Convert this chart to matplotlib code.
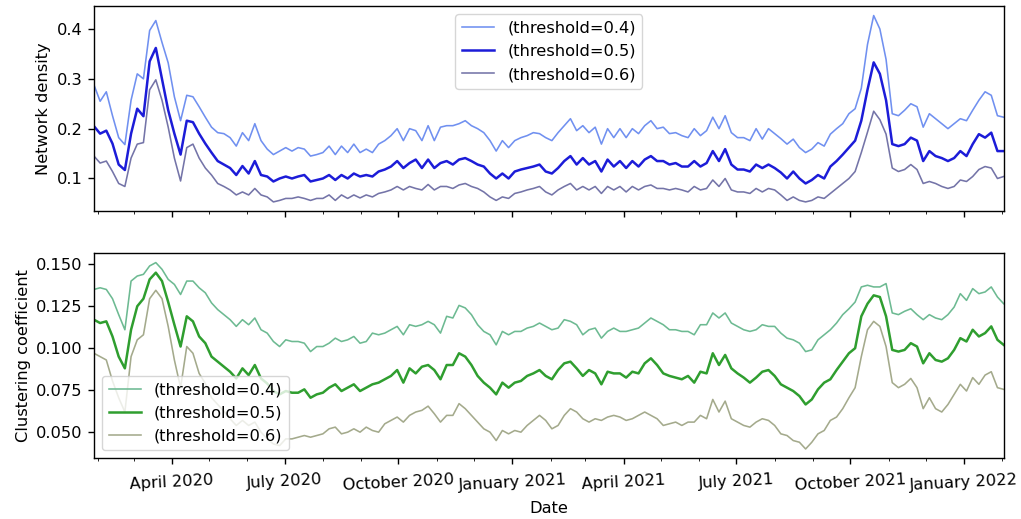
import matplotlib
matplotlib.use('Agg')
import matplotlib.pyplot as plt
import matplotlib.dates as mdates
import pandas as pd

# ---- data (one value every 5 days) ----
start_date = '2020-01-29'
n_points = 148
labels = ['(threshold=0.4)', '(threshold=0.5)', '(threshold=0.6)']

density_04 = [
    0.288, 0.255, 0.274, 0.226, 0.182, 0.168, 0.257, 0.31, 0.30, 0.397, 0.417, 0.373, 0.332, 0.264, 0.216, 0.267,
    0.264, 0.244, 0.223, 0.203, 0.192, 0.19, 0.182, 0.165, 0.192, 0.176, 0.21, 0.176, 0.159, 0.148, 0.155, 0.162,
    0.155, 0.162, 0.159, 0.145, 0.148,
    0.152, 0.165, 0.148, 0.165, 0.152, 0.169, 0.152, 0.159, 0.152, 0.169, 0.176, 0.186, 0.2, 0.176, 0.2, 0.196,
    0.176, 0.206, 0.176, 0.203, 0.206, 0.206, 0.21, 0.216, 0.206, 0.2, 0.192, 0.176, 0.155, 0.176, 0.162, 0.176,
    0.182, 0.186, 0.192, 0.19, 0.182, 0.176,
    0.192, 0.206, 0.22, 0.196, 0.206, 0.192, 0.203, 0.169, 0.2, 0.182, 0.2, 0.182, 0.2, 0.19, 0.206, 0.216,
    0.2, 0.203, 0.19, 0.192, 0.186, 0.182, 0.2, 0.186, 0.196, 0.223, 0.2, 0.226, 0.192, 0.182, 0.182, 0.176,
    0.2, 0.179, 0.2, 0.19, 0.18,
    0.169, 0.179, 0.162, 0.152, 0.159, 0.172, 0.165, 0.189, 0.2, 0.21, 0.23, 0.24, 0.281, 0.369, 0.427, 0.40,
    0.339, 0.23, 0.226, 0.237, 0.25, 0.244, 0.203, 0.23, 0.22, 0.21, 0.2, 0.21, 0.22, 0.216, 0.237, 0.257,
    0.274, 0.267, 0.226, 0.223,
]
density_05 = [
    0.205, 0.19, 0.196, 0.17, 0.128, 0.117, 0.19, 0.24, 0.225, 0.335, 0.362, 0.30, 0.237, 0.19, 0.148, 0.216,
    0.213, 0.19, 0.17, 0.152, 0.135, 0.128, 0.121, 0.107, 0.125, 0.11, 0.135, 0.107, 0.104, 0.094, 0.10, 0.104,
    0.10, 0.104, 0.107, 0.094, 0.097,
    0.10, 0.107, 0.097, 0.107, 0.10, 0.11, 0.104, 0.107, 0.104, 0.114, 0.118, 0.124, 0.135, 0.121, 0.131, 0.138,
    0.121, 0.138, 0.121, 0.131, 0.135, 0.128, 0.138, 0.141, 0.135, 0.128, 0.124, 0.11, 0.10, 0.11, 0.10, 0.114,
    0.118, 0.121, 0.124, 0.128, 0.114, 0.11,
    0.121, 0.135, 0.145, 0.128, 0.141, 0.128, 0.135, 0.114, 0.138, 0.124, 0.135, 0.121, 0.135, 0.124, 0.138, 0.145,
    0.135, 0.135, 0.128, 0.131, 0.124, 0.124, 0.135, 0.124, 0.131, 0.155, 0.135, 0.159, 0.128, 0.118, 0.118, 0.114,
    0.128, 0.121, 0.128, 0.121, 0.112,
    0.10, 0.114, 0.10, 0.09, 0.097, 0.107, 0.10, 0.124, 0.135, 0.148, 0.162, 0.176, 0.216, 0.278, 0.333, 0.31,
    0.257, 0.169, 0.165, 0.169, 0.182, 0.176, 0.135, 0.155, 0.145, 0.141, 0.135, 0.141, 0.155, 0.145, 0.169, 0.189,
    0.182, 0.192, 0.155, 0.155,
]
density_06 = [
    0.145, 0.131, 0.135, 0.114, 0.09, 0.084, 0.141, 0.169, 0.172, 0.278, 0.298, 0.257, 0.203, 0.141, 0.095, 0.162,
    0.169, 0.141, 0.121, 0.107, 0.09, 0.084, 0.077, 0.067, 0.073, 0.067, 0.08, 0.067, 0.063, 0.053, 0.056, 0.06,
    0.06, 0.063, 0.06, 0.056, 0.06,
    0.06, 0.067, 0.056, 0.067, 0.06, 0.067, 0.061, 0.067, 0.063, 0.07, 0.073, 0.077, 0.084, 0.077, 0.084, 0.08,
    0.077, 0.088, 0.077, 0.084, 0.084, 0.08, 0.087, 0.09, 0.084, 0.08, 0.073, 0.063, 0.056, 0.063, 0.06, 0.07,
    0.073, 0.077, 0.08, 0.084, 0.073, 0.067,
    0.077, 0.084, 0.09, 0.077, 0.084, 0.077, 0.084, 0.07, 0.084, 0.077, 0.084, 0.073, 0.084, 0.077, 0.084, 0.087,
    0.08, 0.08, 0.077, 0.08, 0.077, 0.073, 0.084, 0.077, 0.08, 0.097, 0.084, 0.10, 0.077, 0.073, 0.073, 0.07,
    0.08, 0.073, 0.08, 0.077, 0.067,
    0.056, 0.063, 0.056, 0.053, 0.056, 0.063, 0.06, 0.07, 0.08, 0.09, 0.10, 0.114, 0.152, 0.193, 0.235, 0.218,
    0.189, 0.121, 0.114, 0.118, 0.128, 0.118, 0.09, 0.094, 0.09, 0.084, 0.08, 0.084, 0.097, 0.094, 0.104, 0.118,
    0.124, 0.121, 0.10, 0.104,
]

clustering_04 = [
    0.135, 0.136, 0.135, 0.1295, 0.120, 0.111, 0.140, 0.143, 0.144, 0.149, 0.151, 0.147, 0.141, 0.138, 0.132, 0.140,
    0.140, 0.136, 0.133, 0.127, 0.123, 0.120, 0.117, 0.113, 0.117, 0.114, 0.118, 0.111, 0.109, 0.104, 0.101, 0.105,
    0.104, 0.104, 0.103, 0.098, 0.101,
    0.101, 0.103, 0.106, 0.104, 0.105, 0.107, 0.103, 0.104, 0.109, 0.108, 0.109, 0.111, 0.113, 0.108, 0.114, 0.113,
    0.114, 0.116, 0.114, 0.109, 0.119, 0.118, 0.1255, 0.124, 0.120, 0.114, 0.110, 0.108, 0.102, 0.110, 0.108, 0.110,
    0.110, 0.112, 0.113, 0.115, 0.113, 0.111,
    0.112, 0.117, 0.116, 0.114, 0.108, 0.111, 0.112, 0.106, 0.110, 0.112, 0.110, 0.110, 0.111, 0.112, 0.115, 0.118,
    0.116, 0.114, 0.111, 0.111, 0.110, 0.110, 0.108, 0.114, 0.114, 0.121, 0.118, 0.121, 0.115, 0.113, 0.111, 0.110,
    0.111, 0.114, 0.113, 0.113, 0.109,
    0.106, 0.105, 0.103, 0.098, 0.099, 0.105, 0.108, 0.111, 0.115, 0.120, 0.1235, 0.1275, 0.1365, 0.1375, 0.1365, 0.1365,
    0.1385, 0.121, 0.120, 0.122, 0.1235, 0.120, 0.117, 0.120, 0.118, 0.117, 0.120, 0.1245, 0.1325, 0.1285, 0.1355, 0.1325,
    0.1335, 0.1365, 0.1305, 0.1265,
]
clustering_05 = [
    0.117, 0.115, 0.116, 0.107, 0.095, 0.088, 0.111, 0.125, 0.1295, 0.141, 0.145, 0.140, 0.1275, 0.114, 0.101, 0.119,
    0.116, 0.107, 0.103, 0.095, 0.092, 0.089, 0.086, 0.082, 0.088, 0.084, 0.090, 0.082, 0.079, 0.0745, 0.0725, 0.0745,
    0.0735, 0.0735, 0.0755, 0.0705, 0.0725,
    0.0735, 0.0765, 0.0785, 0.0745, 0.0765, 0.0785, 0.0745, 0.0765, 0.0785, 0.0795, 0.0815, 0.0835, 0.087, 0.0795, 0.088, 0.085,
    0.089, 0.090, 0.087, 0.0815, 0.090, 0.090, 0.097, 0.095, 0.090, 0.0835, 0.0795, 0.0765, 0.0725, 0.0795, 0.0765, 0.0795,
    0.0805, 0.0835, 0.085, 0.087, 0.0835, 0.0815,
    0.087, 0.091, 0.092, 0.088, 0.0835, 0.087, 0.085, 0.0785, 0.086, 0.085, 0.085, 0.0825, 0.086, 0.085, 0.091, 0.094,
    0.090, 0.085, 0.0835, 0.0825, 0.0815, 0.0835, 0.0795, 0.086, 0.085, 0.097, 0.090, 0.096, 0.088, 0.085, 0.0825, 0.0795,
    0.0825, 0.086, 0.087, 0.0835, 0.0785,
    0.0765, 0.0745, 0.0715, 0.0665, 0.0695, 0.0755, 0.0795, 0.0815, 0.087, 0.092, 0.097, 0.100, 0.119, 0.1265, 0.1315, 0.1305,
    0.119, 0.099, 0.098, 0.099, 0.103, 0.101, 0.091, 0.097, 0.093, 0.092, 0.094, 0.099, 0.106, 0.104, 0.111, 0.107,
    0.109, 0.113, 0.105, 0.102,
]
clustering_06 = [
    0.097, 0.095, 0.093, 0.0805, 0.0705, 0.062, 0.095, 0.105, 0.108, 0.1295, 0.1345, 0.1295, 0.113, 0.093, 0.0765, 0.101,
    0.097, 0.085, 0.079, 0.0705, 0.0665, 0.0625, 0.058, 0.054, 0.057, 0.054, 0.056, 0.050, 0.046, 0.043, 0.042, 0.046,
    0.046, 0.047, 0.048, 0.047, 0.048,
    0.049, 0.052, 0.053, 0.049, 0.050, 0.052, 0.050, 0.053, 0.051, 0.050, 0.055, 0.057, 0.059, 0.056, 0.060, 0.062,
    0.063, 0.0655, 0.061, 0.056, 0.060, 0.060, 0.067, 0.064, 0.060, 0.056, 0.052, 0.050, 0.045, 0.051, 0.049, 0.051,
    0.050, 0.054, 0.057, 0.060, 0.057, 0.052,
    0.054, 0.060, 0.064, 0.062, 0.058, 0.056, 0.058, 0.057, 0.059, 0.060, 0.059, 0.057, 0.058, 0.060, 0.062, 0.060,
    0.058, 0.054, 0.055, 0.056, 0.054, 0.056, 0.056, 0.060, 0.058, 0.0695, 0.062, 0.0685, 0.058, 0.056, 0.054, 0.053,
    0.056, 0.058, 0.057, 0.054, 0.049,
    0.048, 0.045, 0.044, 0.040, 0.044, 0.049, 0.051, 0.057, 0.059, 0.064, 0.0705, 0.0765, 0.095, 0.111, 0.116, 0.113,
    0.101, 0.0795, 0.0765, 0.0785, 0.082, 0.0765, 0.064, 0.0705, 0.064, 0.062, 0.0665, 0.0725, 0.0785, 0.0745, 0.0825, 0.0785,
    0.084, 0.086, 0.0765, 0.0755,
]

dates = pd.date_range(start_date, periods=n_points, freq='5D')

# ---- style ----
FS = 11.7
plt.rcParams.update({
    'font.size': FS,
    'axes.linewidth': 1.0,
    'xtick.major.size': 4.5, 'ytick.major.size': 4.5,
    'xtick.minor.size': 2.5,
    'xtick.major.width': 1.0, 'ytick.major.width': 1.0,
})

fig = plt.figure(figsize=(10.21, 5.19), dpi=100)
ax1 = fig.add_axes([0.092, 0.593, 0.891, 0.395])
ax2 = fig.add_axes([0.092, 0.117, 0.891, 0.395], sharex=ax1)

blue_colors = ['#7090f0', '#1c1cd8', '#7474a8']
green_colors = ['#6dba92', '#2f9e2f', '#a4aa8c']
widths = [1.15, 1.8, 1.15]

for vals, c, lw, lab in zip([density_04, density_05, density_06], blue_colors, widths, labels):
    ax1.plot(dates, vals, color=c, lw=lw, label=lab)
for vals, c, lw, lab in zip([clustering_04, clustering_05, clustering_06], green_colors, widths, labels):
    ax2.plot(dates, vals, color=c, lw=lw, label=lab)

ax1.set_xlim(dates[0], dates[-1])
ax1.set_yticks([0.1, 0.2, 0.3, 0.4])
ax2.set_yticks([0.050, 0.075, 0.100, 0.125, 0.150])
ax2.yaxis.set_major_formatter(matplotlib.ticker.FormatStrFormatter('%.3f'))

for ax in (ax1, ax2):
    ax.xaxis.set_major_locator(mdates.MonthLocator(bymonth=[1, 4, 7, 10]))
    ax.xaxis.set_minor_locator(mdates.MonthLocator())
    ax.xaxis.set_major_formatter(mdates.DateFormatter('%B %Y'))
    ax.tick_params(labelsize=FS)

ax2.tick_params(axis='x', which='major', pad=5.5)
plt.setp(ax1.get_xticklabels(), visible=False)
for t in ax2.get_xticklabels():
    t.set_rotation(3)
    t.set_ha('center')

ax1.set_ylabel('Network density', fontsize=FS)
ax2.set_ylabel('Clustering coefficient', fontsize=FS)
ax2.set_xlabel('Date', fontsize=FS, labelpad=6)

ax1.legend(loc='upper center', fontsize=FS)
ax2.legend(loc='lower left', fontsize=FS)

fig.align_ylabels([ax1, ax2])
fig.savefig('out.png', dpi=100)
